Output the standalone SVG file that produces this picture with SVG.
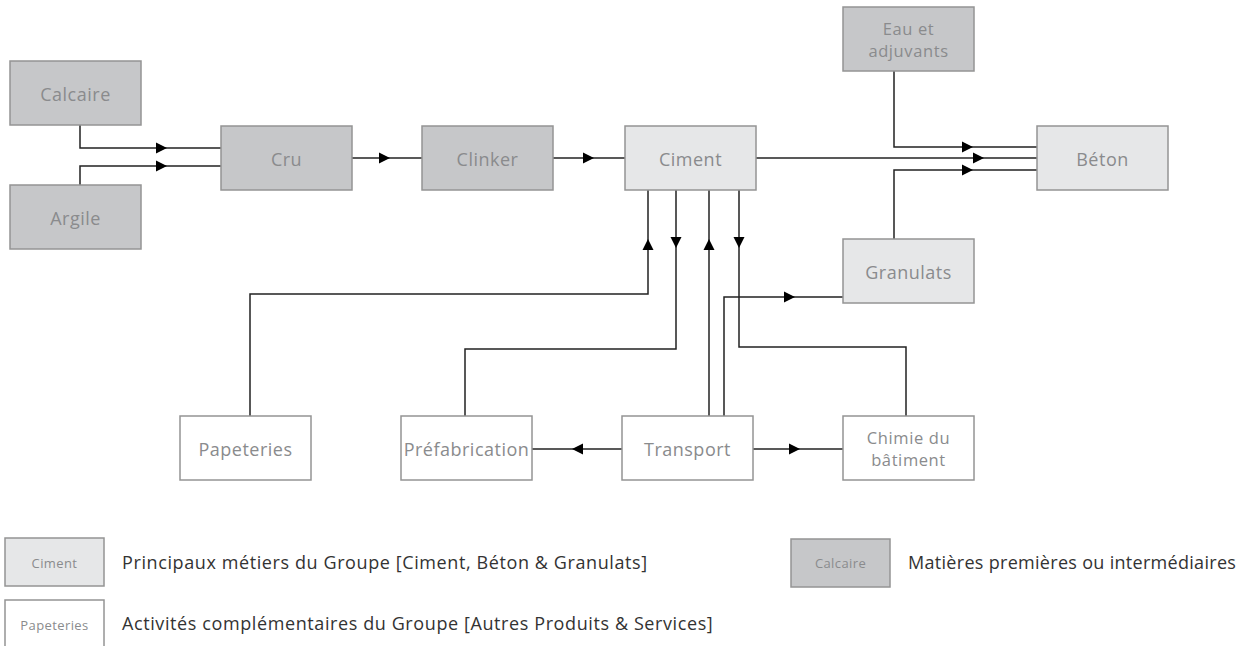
<svg xmlns="http://www.w3.org/2000/svg" xmlns:xlink="http://www.w3.org/1999/xlink" width="1245" height="646" viewBox="0 0 1245 646">
<style>
.box{stroke:#949494;stroke-width:1.5}
.dark{fill:#c6c7c9}
.light{fill:#e6e7e8}
.white{fill:#ffffff}
.lbl{font-family:"Open Sans","Liberation Sans",sans-serif;font-size:18px;fill:#8a8b8d;text-anchor:middle;letter-spacing:0.5px}
.two{font-size:16.5px;letter-spacing:0.6px}
.sm{font-family:"Open Sans","Liberation Sans",sans-serif;font-size:13px;fill:#8a8b8d;text-anchor:middle;letter-spacing:0.4px}
.desc{font-family:"Open Sans","Liberation Sans",sans-serif;font-size:18px;fill:#333333;letter-spacing:0.6px}
.ln{fill:none;stroke:#222222;stroke-width:1.5}
.ah{fill:#000000}
</style>
<defs>
<path id="ah" class="ah" d="M0,0 L-11,-5.5 L-11,5.5 Z"/>
</defs>
<rect width="1245" height="646" fill="#ffffff"/>
<g id="connectors">
<path class="ln" d="M80,125 V148 H221"/>
<path class="ln" d="M80,185 V166 H221"/>
<path class="ln" d="M352,158 H422"/>
<path class="ln" d="M553,158 H625"/>
<path class="ln" d="M756,158 H1037"/>
<path class="ln" d="M894,71 V147 H1037"/>
<path class="ln" d="M894,239 V170 H1037"/>
<path class="ln" d="M250,416 V294 H648 V190"/>
<path class="ln" d="M465,416 V349 H676 V190"/>
<path class="ln" d="M709,416 V190"/>
<path class="ln" d="M724,416 V297 H843"/>
<path class="ln" d="M739,190 V347 H906 V416"/>
<path class="ln" d="M622,449 H532"/>
<path class="ln" d="M753,449 H843"/>
<use xlink:href="#ah" transform="translate(167,148)"/>
<use xlink:href="#ah" transform="translate(167,166)"/>
<use xlink:href="#ah" transform="translate(390,158)"/>
<use xlink:href="#ah" transform="translate(594,158)"/>
<use xlink:href="#ah" transform="translate(984,158)"/>
<use xlink:href="#ah" transform="translate(973,147)"/>
<use xlink:href="#ah" transform="translate(973,170)"/>
<use xlink:href="#ah" transform="translate(648,239) rotate(-90)"/>
<use xlink:href="#ah" transform="translate(676,248) rotate(90)"/>
<use xlink:href="#ah" transform="translate(709,239) rotate(-90)"/>
<use xlink:href="#ah" transform="translate(739,248) rotate(90)"/>
<use xlink:href="#ah" transform="translate(795,297)"/>
<use xlink:href="#ah" transform="translate(572,449) rotate(180)"/>
<use xlink:href="#ah" transform="translate(800,449)"/>
</g>
<g id="calcaire"><rect class="box dark" x="10" y="61" width="131" height="64"/><text class="lbl" x="75.5" y="101">Calcaire</text></g>
<g id="argile"><rect class="box dark" x="10" y="185" width="131" height="64"/><text class="lbl" x="75.5" y="225">Argile</text></g>
<g id="cru"><rect class="box dark" x="221" y="126" width="131" height="64"/><text class="lbl" x="286.5" y="166">Cru</text></g>
<g id="clinker"><rect class="box dark" x="422" y="126" width="131" height="64"/><text class="lbl" x="487.5" y="166">Clinker</text></g>
<g id="ciment"><rect class="box light" x="625" y="126" width="131" height="64"/><text class="lbl" x="690.5" y="166">Ciment</text></g>
<g id="eau"><rect class="box dark" x="843" y="7" width="131" height="64"/><text class="lbl two" x="908.5" y="35">Eau et</text><text class="lbl two" x="908.5" y="57">adjuvants</text></g>
<g id="beton"><rect class="box light" x="1037" y="126" width="131" height="64"/><text class="lbl" x="1102.5" y="166">Béton</text></g>
<g id="granulats"><rect class="box light" x="843" y="239" width="131" height="64"/><text class="lbl" x="908.5" y="279">Granulats</text></g>
<g id="papeteries"><rect class="box white" x="180" y="416" width="131" height="64"/><text class="lbl" x="245.5" y="456">Papeteries</text></g>
<g id="prefabrication"><rect class="box white" x="401" y="416" width="131" height="64"/><text class="lbl" x="466.5" y="456">Préfabrication</text></g>
<g id="transport"><rect class="box white" x="622" y="416" width="131" height="64"/><text class="lbl" x="687.5" y="456">Transport</text></g>
<g id="chimie"><rect class="box white" x="843" y="416" width="131" height="64"/><text class="lbl two" x="908.5" y="444">Chimie du</text><text class="lbl two" x="908.5" y="466">bâtiment</text></g>
<g id="legend">
<rect class="box light" x="5" y="538" width="99" height="48"/><text class="sm" x="54.5" y="568">Ciment</text>
<text class="desc" x="122" y="569">Principaux métiers du Groupe [Ciment, Béton &amp; Granulats]</text>
<rect class="box white" x="5" y="600" width="99" height="60"/><text class="sm" x="54.5" y="630">Papeteries</text>
<text class="desc" x="122" y="630">Activités complémentaires du Groupe [Autres Produits &amp; Services]</text>
<rect class="box dark" x="791" y="539" width="99" height="48"/><text class="sm" x="840.5" y="568">Calcaire</text>
<text class="desc" x="908" y="569" style="letter-spacing:0.3px">Matières premières ou intermédiaires</text>
</g>
</svg>
